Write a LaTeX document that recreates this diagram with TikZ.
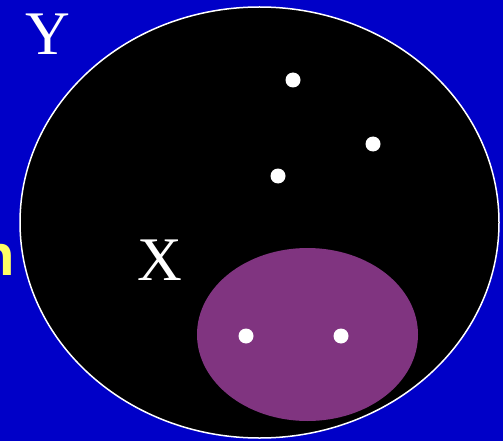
\documentclass[tikz,border=0pt]{standalone}
\usepackage{fontspec}
\setmainfont{Liberation Serif}
\newfontfamily\boldsans{Liberation Sans}
\definecolor{bgblue}{RGB}{0,0,200}
\definecolor{plum}{RGB}{128,52,128}
\definecolor{lemon}{RGB}{255,255,100}
\tikzset{
  dot/.style={circle,fill=white,inner sep=0pt,minimum size=15pt},
  letter/.style={text=white,font=\fontsize{62}{62}\selectfont,inner sep=0pt}
}
\begin{document}
\begin{tikzpicture}[x=1pt,y=-1pt]
\fill[bgblue] (0,0) rectangle (503,441);
\useasboundingbox (0,0) rectangle (503,441);
\node[anchor=base east,inner sep=0pt,text=lemon,font=\boldsans\bfseries\fontsize{58}{58}\selectfont] (n) at (15,275) {n};
\draw[white,line width=1.5pt,fill=black] (259.5,222.5) ellipse [x radius=239.5,y radius=215.5];
\node[draw=none] (Ycirc) at (259.5,222.5) {};
\fill[plum] (307.5,334.5) ellipse [x radius=110.5,y radius=86.5];
\node[letter,anchor=base] (Y) at (48,55) {Y};
\node[letter,anchor=base] (X) at (160,280) {X};
\node[dot] (d1) at (293,80) {};
\node[dot] (d2) at (373,144) {};
\node[dot] (d3) at (278,176) {};
\node[dot] (d4) at (246,336) {};
\node[dot] (d5) at (341,336) {};
\end{tikzpicture}
\end{document}
